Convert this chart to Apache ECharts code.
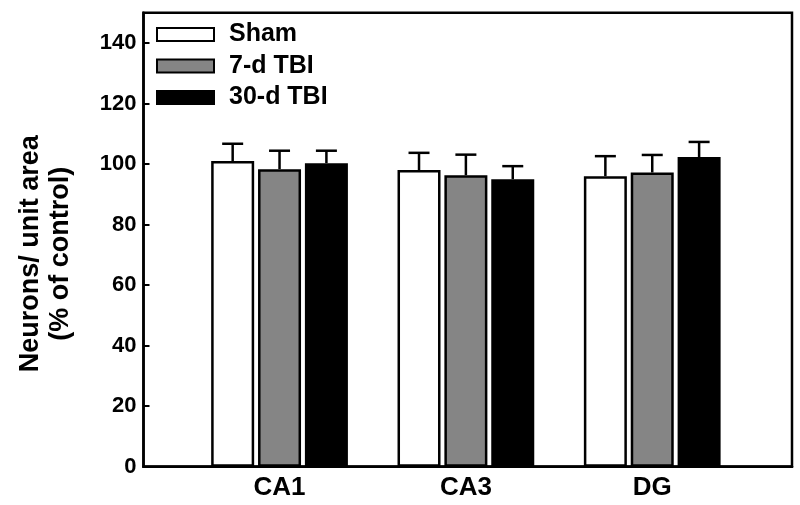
<!DOCTYPE html>
<html>
<head>
<meta charset="utf-8">
<script src="https://cdn.jsdelivr.net/npm/echarts@6/dist/echarts.min.js"></script>
<style>html,body{margin:0;padding:0;background:#fff}#c{width:800px;height:505px}</style>
</head>
<body>
<div id="c"></div>
<script>
var categories = ['CA1', 'CA3', 'DG'];
var seriesNames = ['Sham', '7-d TBI', '30-d TBI'];
var shamMean = [101.0, 98.0, 96.0];
var shamErr = [5.7, 5.7, 6.6];
var tbi7Mean = [98.3, 96.3, 97.2];
var tbi7Err = [6.1, 6.8, 5.8];
var tbi30Mean = [100.3, 95.0, 102.3];
var tbi30Err = [4.1, 4.3, 5.0];
var yTicks = [0, 20, 40, 60, 80, 100, 120, 140];

var means = [shamMean, tbi7Mean, tbi30Mean];
var errs = [shamErr, tbi7Err, tbi30Err];
var colors = ['#ffffff', '#858585', '#000000'];
var FONT = 'Liberation Sans, Arial, sans-serif';
var BAR_W = 43, BAR_GAP = 0.09;
var STEP = BAR_W * (1 + BAR_GAP);

var chart = echarts.init(document.getElementById('c'), null, {renderer: 'canvas'});

var series = [];
seriesNames.forEach(function (name, s) {
  series.push({
    name: name,
    type: 'bar',
    barWidth: BAR_W,
    barGap: (BAR_GAP * 100) + '%',
    data: categories.map(function (c, i) { return [i + 1, means[s][i]]; }),
    itemStyle: {color: colors[s], borderColor: '#000', borderWidth: 2.5},
    emphasis: {disabled: true},
    z: 2
  });
});
seriesNames.forEach(function (name, s) {
  series.push({
    type: 'custom',
    z: 3,
    silent: true,
    data: categories.map(function (c, i) { return [i + 1, means[s][i], means[s][i] + errs[s][i]]; }),
    renderItem: function (params, api) {
      var p0 = api.coord([api.value(0), api.value(1)]);
      var p1 = api.coord([api.value(0), api.value(2)]);
      var x = p0[0] + (s - 1) * STEP;
      var hw = 10.5;
      var st = {stroke: '#000', lineWidth: 2.5, fill: null};
      return {
        type: 'group',
        children: [
          {type: 'line', shape: {x1: x, y1: p0[1], x2: x, y2: p1[1]}, style: st},
          {type: 'line', shape: {x1: x - hw, y1: p1[1], x2: x + hw, y2: p1[1]}, style: st}
        ]
      };
    }
  });
});

chart.setOption({
  animation: false,
  backgroundColor: '#fff',
  grid: {left: 143.5, right: 8, top: 12.7, bottom: 38.3, show: true, borderColor: '#000', borderWidth: 2.5, backgroundColor: 'transparent'},
  legend: {
    data: seriesNames,
    orient: 'vertical',
    left: 151,
    top: 17,
    itemWidth: 57,
    itemHeight: 13,
    itemGap: 6.5,
    icon: 'rect',
    selectedMode: false,
    textStyle: {fontFamily: FONT, fontWeight: 'bold', fontSize: 25, color: '#000', lineHeight: 20, padding: [0, 0, 0, 10]}
  },
  xAxis: {
    type: 'value',
    min: 0.27,
    max: 3.75,
    splitLine: {show: false},
    axisLine: {show: true, lineStyle: {color: '#000', width: 2.5}},
    axisTick: {show: false},
    axisLabel: {
      customValues: [1, 2, 3],
      formatter: function (v) { return categories[Math.round(v) - 1] || ''; },
      fontFamily: FONT, fontWeight: 'bold', fontSize: 26, color: '#000', margin: 8
    }
  },
  yAxis: {
    type: 'value',
    min: 0,
    max: 150,
    splitLine: {show: false},
    axisLine: {show: true, lineStyle: {color: '#000', width: 2.5}},
    axisTick: {show: true, inside: true, length: 6, customValues: yTicks, lineStyle: {color: '#000', width: 2}},
    axisLabel: {customValues: yTicks, fontFamily: FONT, fontWeight: 'bold', fontSize: 22, color: '#000', margin: 7},
    name: 'Neurons/ unit area\n(% of control)',
    nameLocation: 'middle',
    nameRotate: 90,
    nameGap: 68,
    nameTextStyle: {fontFamily: FONT, fontWeight: 'bold', fontSize: 27, color: '#000', lineHeight: 30, padding: [0, 28, 0, 0]}
  },
  series: series
});
</script>
</body>
</html>
